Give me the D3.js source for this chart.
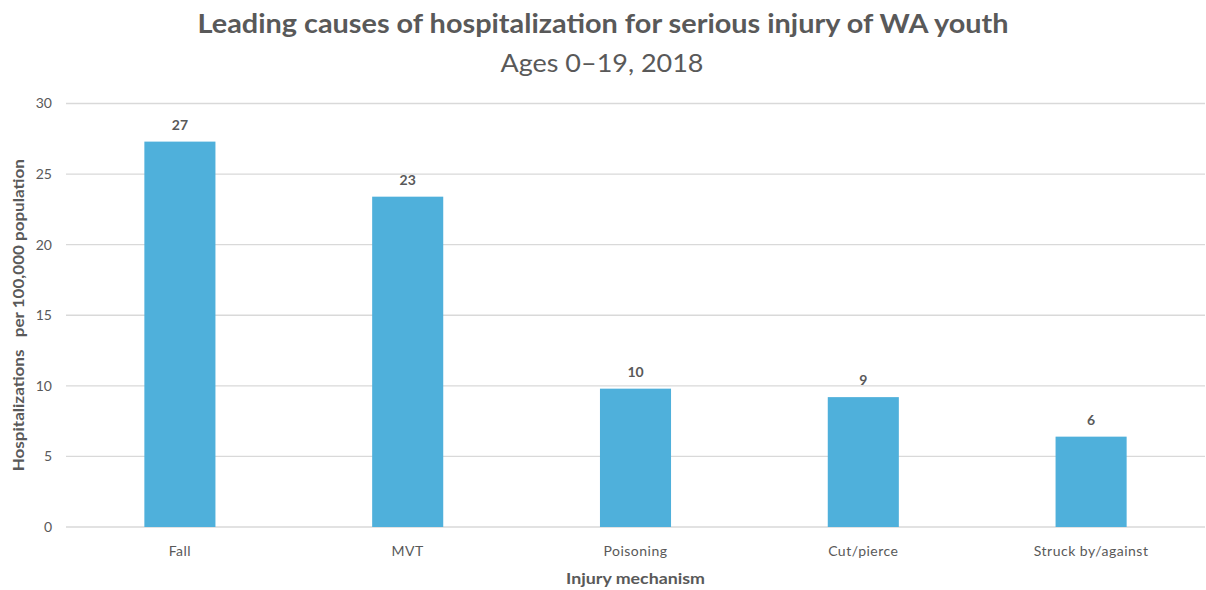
<!DOCTYPE html>
<html><head><meta charset="utf-8">
<script src="https://cdn.jsdelivr.net/npm/d3@7"></script>
<style>body{margin:0;background:#fff}svg{display:block}text{font-family:Lato,"Open Sans",sans-serif}</style>
</head><body><svg id="c" width="1206" height="590"></svg>
<script>
const categories = ["Fall","MVT","Poisoning","Cut/pierce","Struck by/against"];
const values = [27.3, 23.4, 9.8, 9.2, 6.4];
const yTicks = [0,5,10,15,20,25,30];
const title = "Leading causes of hospitalization for serious injury of WA youth";
const subtitle = "Ages 0\u201319, 2018";
const xTitle = "Injury mechanism";
const yTitle = "Hospitalizations\u00a0\u00a0 per 100,000 population";

const svg = d3.select("#c");
const m = {left:66, right:1205, top:103.5, bottom:527};
const x = d3.scaleBand().domain(categories).range([m.left,m.right]).paddingInner(0.688).paddingOuter(0.344);
const y = d3.scaleLinear().domain([0,30]).range([m.bottom,m.top]);
const grey = "#595959";

svg.append("g").selectAll("line").data(yTicks).join("line")
  .attr("x1",m.left).attr("x2",m.right)
  .attr("y1",d=>y(d)).attr("y2",d=>y(d))
  .attr("stroke","#d9d9d9").attr("stroke-width",1.3);

const yAxis = svg.append("g").attr("transform",`translate(${m.left},0)`)
  .call(d3.axisLeft(y).tickValues(yTicks).tickSize(0).tickPadding(14));
yAxis.select(".domain").remove();
yAxis.selectAll("text").attr("fill",grey).style("font-size","14px").style("font-family","Lato");

const xAxis = svg.append("g").attr("transform",`translate(0,${m.bottom})`)
  .call(d3.axisBottom(x).tickSize(0).tickPadding(19));
xAxis.select(".domain").remove();
xAxis.selectAll("text").attr("fill",grey).style("font-size","14px").style("font-family","Lato").style("letter-spacing","0.5px");

svg.append("g").selectAll("rect").data(values).join("rect")
  .attr("x",(d,i)=>x(categories[i])).attr("width",x.bandwidth())
  .attr("y",d=>y(d)).attr("height",d=>y(0)-y(d))
  .attr("fill","#4FB0DB");

svg.append("g").selectAll("text").data(values).join("text")
  .attr("x",(d,i)=>x(categories[i])+x.bandwidth()/2)
  .attr("y",d=>y(d)-12)
  .attr("text-anchor","middle").attr("fill",grey)
  .style("font-size","14px").style("font-weight","bold")
  .text(d=>d3.format(".0f")(d));

svg.append("text").attr("x",603).attr("y",33).attr("text-anchor","middle")
  .attr("textLength",811).attr("lengthAdjust","spacingAndGlyphs")
  .attr("fill",grey).style("font-size","26px").style("font-weight","bold").text(title);
svg.append("text").attr("x",602).attr("y",72).attr("text-anchor","middle")
  .attr("textLength",203).attr("lengthAdjust","spacingAndGlyphs")
  .attr("fill",grey).style("font-size","25px").text(subtitle);
svg.append("text").attr("x",(m.left+m.right)/2).attr("y",584).attr("text-anchor","middle")
  .attr("textLength",139).attr("lengthAdjust","spacingAndGlyphs")
  .attr("fill",grey).style("font-size","16px").style("font-weight","bold").text(xTitle);
svg.append("text").attr("transform",`translate(24,${(m.top+m.bottom)/2}) rotate(-90)`)
  .attr("text-anchor","middle").attr("fill",grey)
  .attr("textLength",312).attr("lengthAdjust","spacingAndGlyphs")
  .style("font-size","16px").style("font-weight","bold").text(yTitle);
</script></body></html>
